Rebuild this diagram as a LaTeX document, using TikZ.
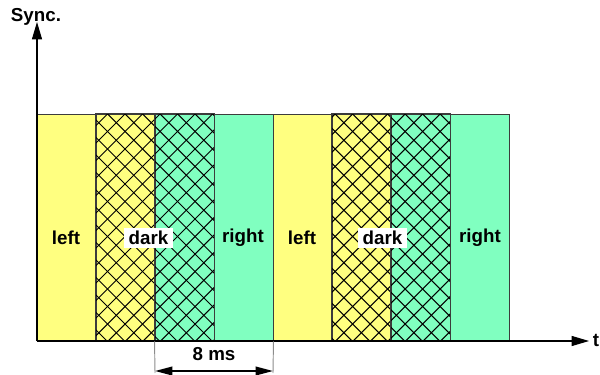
\documentclass[tikz,border=0pt]{standalone}
\usepackage{fontspec}
\setmainfont{Liberation Sans}
\usetikzlibrary{arrows.meta}
\definecolor{cyel}{RGB}{255,255,128}
\definecolor{cgrn}{RGB}{128,255,192}
\definecolor{cedge}{RGB}{60,60,60}
\tikzset{
  bar/.style={draw=cedge, line width=0.8pt, inner sep=0pt, minimum width=1.77cm, minimum height=6.81cm},
  lbl/.style={font=\fontsize{16}{19}\selectfont\bfseries, inner sep=0pt},
  darklbl/.style={lbl, fill=white, inner xsep=4pt, inner ysep=2.5pt},
  hatch/.style={line width=0.9pt, black},
  axis/.style={line width=0.9pt, -{Triangle[length=0.52cm, width=0.3cm]}},
  dimarrow/.style={line width=1.4pt, {Triangle[length=0.52cm, width=0.26cm]}-{Triangle[length=0.52cm, width=0.26cm]}},
  extline/.style={line width=0.8pt, black!45}
}
\newcommand{\hatchbox}[1]{%
  \begin{scope}
    \clip (#1.south west) rectangle (#1.north east);
    \foreach \c in {-260,-242.5,...,780} {
      \draw[hatch] ({\c},114) -- ({\c+227},341);
      \draw[hatch] ({\c},114) -- ({\c-227},341);
    }
  \end{scope}
  \draw[draw=cedge, line width=0.8pt] (#1.south west) rectangle (#1.north east);
}
\begin{document}
\begin{tikzpicture}[x=0.03cm, y=-0.03cm]
\useasboundingbox (0,0) rectangle (600,375);
% bars
\node[bar, fill=cyel] (b1) at (66.5,227.5) {};
\node[bar, fill=cyel] (b2) at (125.5,227.5) {};
\node[bar, fill=cgrn] (b3) at (184.5,227.5) {};
\node[bar, fill=cgrn] (b4) at (243.5,227.5) {};
\node[bar, fill=cyel] (b5) at (302.5,227.5) {};
\node[bar, fill=cyel] (b6) at (361.5,227.5) {};
\node[bar, fill=cgrn] (b7) at (420.5,227.5) {};
\node[bar, fill=cgrn] (b8) at (479.5,227.5) {};
\hatchbox{b2}
\hatchbox{b3}
\hatchbox{b6}
\hatchbox{b7}
% labels
\node[lbl] (l1) at (66,238) {left};
\node[darklbl] (d1) at (148.5,238) {dark};
\node[lbl] (r1) at (243,238) {right};
\node[lbl] (l2) at (302,238) {left};
\node[darklbl] (d2) at (382.5,238) {dark};
\node[lbl] (r2) at (480,238) {right};
% axes
\coordinate (O) at (37,341);
\coordinate (ytip) at (37,22);
\coordinate (xtip) at (589,341);
\draw[axis] (O) -- (ytip);
\draw[axis] (O) -- (xtip);
\node[lbl] (sync) at (36,17) {Sync.};
\node[lbl] (t) at (596,340) {t};
% dimension
\coordinate (e1) at (155,373);
\coordinate (e2) at (273,373);
\coordinate (a1) at (155,371);
\coordinate (a2) at (273,371);
\draw[extline] (b3.south west) -- (e1);
\draw[extline] (b4.south east) -- (e2);
\draw[dimarrow] (a1) -- (a2);
\node[lbl] (ms) at (214,354) {8 ms};
\end{tikzpicture}
\end{document}
